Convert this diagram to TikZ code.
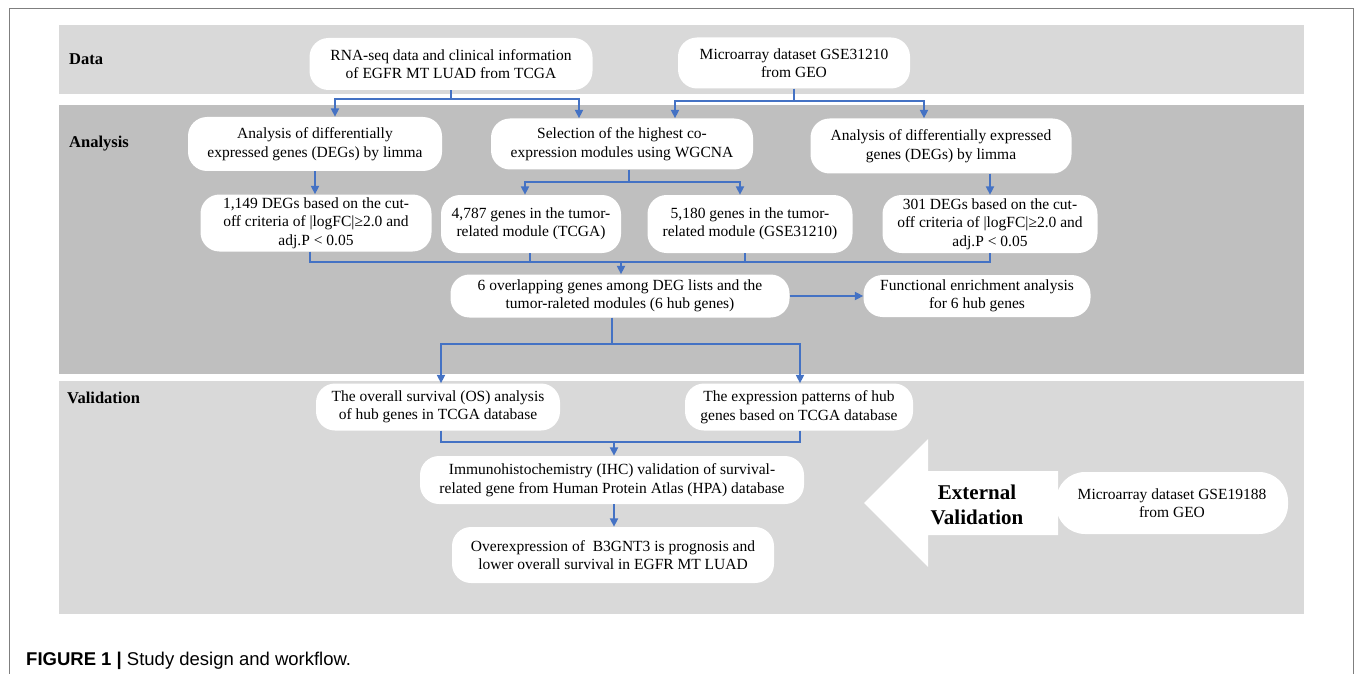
\documentclass[tikz,border=0pt]{standalone}
\usepackage{fontspec}
\setmainfont{Liberation Serif}
\newfontfamily\capfont{Liberation Sans}
\usetikzlibrary{arrows.meta}
\definecolor{bandlight}{HTML}{D9D9D9}
\definecolor{banddark}{HTML}{BFBFBF}
\definecolor{flow}{HTML}{4472C4}
\definecolor{framegray}{HTML}{7F7F7F}
\tikzset{
  box/.style={draw=none, fill=white, rounded corners=19pt, align=center, inner sep=0pt,
    font=\fontsize{15.5}{18.5}\selectfont},
  flowline/.style={draw=flow, line width=2.2pt},
  flowarrow/.style={flowline, -{Triangle[length=8.5pt,width=8pt]}},
  bandlabel/.style={anchor=west, inner sep=0pt, font=\fontsize{16.5}{19}\selectfont\bfseries},
}
\begin{document}
\begin{tikzpicture}[x=1pt,y=-1pt]
\useasboundingbox (0,0) rectangle (1355,674);
\fill[white] (0,0) rectangle (1355,674);
% frame
\draw[framegray, line width=1pt] (9,674) -- (9,9) -- (1353,9) -- (1353,674);
% bands
\fill[bandlight] (59,25) rectangle (1304,94);
\fill[banddark] (59,105) rectangle (1304,374);
\fill[bandlight] (59,381) rectangle (1304,614);
\node[bandlabel] (ldata) at (69,59) {Data};
\node[bandlabel] (lana) at (69,144) {Analysis};
\node[bandlabel] (lval) at (67,398) {Validation};

% boxes
\node[box, minimum width=283pt, minimum height=52pt] (rna) at (451,64)
  {RNA-seq data and clinical information\\of EGFR MT LUAD from TCGA};
\node[box, minimum width=232pt, minimum height=51pt] (geo) at (794,63)
  {Microarray dataset GSE31210\\from GEO};
\node[box, minimum width=254pt, minimum height=54pt] (a1) at (315,144)
  {Analysis of differentially\\expressed genes (DEGs) by limma};
\node[box, minimum width=262pt, minimum height=51pt] (sel) at (622,144)
  {Selection of the highest co-\\expression modules using WGCNA};
\node[box, minimum width=261pt, minimum height=55pt] (a2) at (941,146)
  {Analysis of differentially expressed\\genes (DEGs) by limma};
\node[box, minimum width=231pt, minimum height=57pt] (d1) at (316,223)
  {1,149 DEGs based on the cut-\\off criteria of |logFC|≥2.0 and\\adj.P < 0.05};
\node[box, minimum width=180pt, minimum height=58pt] (m1) at (531,224)
  {4,787 genes in the tumor-\\related module (TCGA)};
\node[box, minimum width=205pt, minimum height=58pt] (m2) at (750,224)
  {5,180 genes in the tumor-\\related module (GSE31210)};
\node[box, minimum width=215pt, minimum height=58pt] (d2) at (990,224)
  {301 DEGs based on the cut-\\off criteria of |logFC|≥2.0 and\\adj.P < 0.05};
\node[box, minimum width=339pt, minimum height=43pt] (ov) at (620,296)
  {6 overlapping genes among DEG lists and the\\tumor-raleted modules (6 hub genes)};
\node[box, minimum width=227pt, minimum height=42pt] (fn) at (977,296)
  {Functional enrichment analysis\\for 6 hub genes};
\node[box, minimum width=244pt, minimum height=47pt] (os) at (438,407)
  {The overall survival (OS) analysis\\of hub genes in TCGA database};
\node[box, minimum width=228pt, minimum height=47pt] (ex) at (799,407)
  {The expression patterns of hub\\genes based on TCGA database};
\node[box, minimum width=384pt, minimum height=48pt] (ihc) at (612,480)
  {Immunohistochemistry (IHC) validation of survival-\\related gene from Human Protein Atlas (HPA) database};
\node[box, minimum width=322pt, minimum height=56pt] (oe) at (613,555)
  {Overexpression of \ B3GNT3 is prognosis and\\lower overall survival in EGFR MT LUAD};
\node[box, minimum width=232pt, minimum height=62pt, rounded corners=29pt] (geo2) at (1172,503)
  {Microarray dataset GSE19188\\from GEO};

% big arrow
\fill[white] (864,503) -- (928,439) -- (928,471) -- (1058,471) -- (1058,535)
  -- (928,535) -- (928,567) -- cycle;
\node[align=center, inner sep=0pt, font=\fontsize{21}{25}\selectfont\bfseries] (extv) at (977,505)
  {External\\Validation};

% connectors
\coordinate (jr) at (451,99);
\draw[flowline] (rna.south) -- (jr);
\draw[flowarrow] (jr) -| ([xshift=20pt]a1.north);
\draw[flowarrow] (jr) -| ([xshift=-43pt]sel.north);

\coordinate (jg) at (794,101);
\draw[flowline] (geo.south) -- (jg);
\draw[flowarrow] (jg) -| ([xshift=53pt]sel.north);
\draw[flowarrow] (jg) -| ([xshift=-17pt]a2.north);

\coordinate (js) at (629,182);
\draw[flowline] ([xshift=7pt]sel.south) -- (js);
\draw[flowarrow] (js) -| ([xshift=-6pt]m1.north);
\draw[flowarrow] (js) -| ([xshift=-10pt]m2.north);

\draw[flowarrow] (a1.south) -- (a1.south |- d1.north);
\draw[flowarrow] (a2.south -| d2.north) -- (d2.north);

\coordinate (jm) at (621,262);
\draw[flowline] ([xshift=-6pt]d1.south) |- (jm);
\draw[flowline] (d2.south) |- (jm);
\draw[flowline] ([xshift=-1pt]m1.south) -- ([xshift=-1pt]m1.south |- jm);
\draw[flowline] ([xshift=-5pt]m2.south) -- ([xshift=-5pt]m2.south |- jm);
\draw[flowarrow] (jm) -- (jm |- ov.north);

\draw[flowarrow] (ov.east) -- (fn.west);

\coordinate (jo) at (612,344);
\draw[flowline] ([xshift=-8pt]ov.south) -- (jo);
\draw[flowarrow] (jo) -| ([xshift=3pt]os.north);
\draw[flowarrow] (jo) -| ([xshift=1pt]ex.north);

\coordinate (jv) at (614,442);
\draw[flowline] ([xshift=3pt]os.south) |- (jv);
\draw[flowline] ([xshift=1pt]ex.south) |- (jv);
\draw[flowarrow] (jv) -- (jv |- ihc.north);

\draw[flowarrow] ([xshift=2pt]ihc.south) -- ([xshift=2pt]ihc.south |- oe.north);

% caption
\node[anchor=base west, inner sep=0pt, font=\capfont\fontsize{18.5}{21}\selectfont] (cap) at (26,665)
  {\textbf{FIGURE 1 |} Study design and workflow.};
\end{tikzpicture}
\end{document}
